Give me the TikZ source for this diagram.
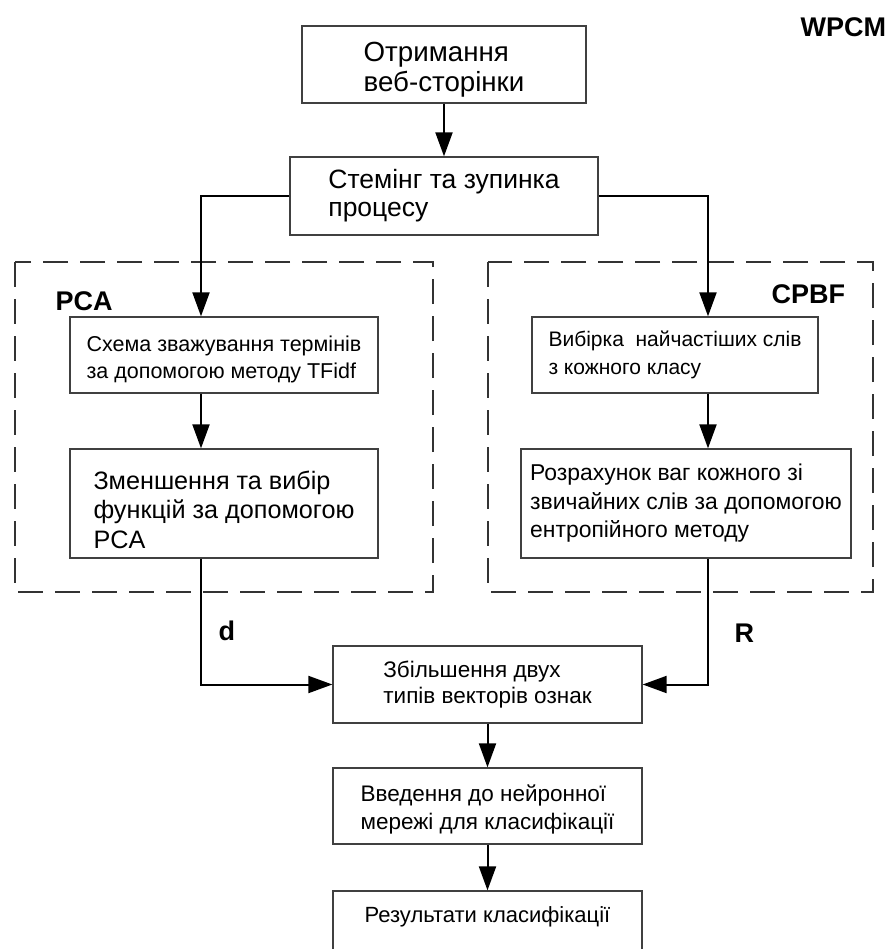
\documentclass[tikz,border=0pt]{standalone}
\usepackage{fontspec}
\setmainfont{Liberation Sans}
\usetikzlibrary{arrows.meta}
\tikzset{
  box/.style={draw=black!75, line width=1.3pt, align=left, inner sep=0pt},
  arr/.style={line width=2pt, -{Triangle[length=24pt,width=17pt]}},
  grpbox/.style={draw=black!80, line width=2pt, dash pattern=on 25pt off 12pt},
  lbl/.style={font=\fontsize{27}{30}\selectfont\bfseries}
}

\begin{document}
\begin{tikzpicture}[x=1pt, y=-1pt]
\useasboundingbox (0,0) rectangle (887,949);

\draw[grpbox] (15,262) rectangle (433,592);
\draw[grpbox] (488,262) rectangle (873,592);

\node[box, minimum width=284pt, minimum height=77pt, font=\fontsize{27.7}{30}\selectfont] (fetch) at (444,64.5) {\rule{0pt}{29.8pt}Отримання\\веб-сторінки};
\node[box, minimum width=308pt, minimum height=78pt, font=\fontsize{26.5}{28}\selectfont] (stem) at (444,196) {Стемінг та зупинка\\процесу};
\node[box, minimum width=308pt, minimum height=76pt, font=\fontsize{21.5}{27}\selectfont] (tfidf) at (224,355) {\rule{0pt}{25.4pt}Схема зважування термінів\\за допомогою методу TFidf};
\node[box, minimum width=308pt, minimum height=109pt, font=\fontsize{25.2}{29.5}\selectfont] (reduce) at (224,503.5) {\rule{0pt}{30.6pt}Зменшення та вибір\\функцій за допомогою\\PCA};
\node[box, minimum width=286pt, minimum height=76pt, font=\fontsize{21}{28}\selectfont] (freq) at (675,355) {Вибірка~ найчастіших слів\\з кожного класу};
\node[box, minimum width=330pt, minimum height=109pt, font=\fontsize{22.9}{28.5}\selectfont] (entropy) at (686,503.5) {Розрахунок ваг кожного зі\\звичайних слів за допомогою\\ентропійного методу};
\node[box, minimum width=309pt, minimum height=77pt, font=\fontsize{22.5}{26}\selectfont] (concat) at (487.5,684.5) {Збільшення двух\\ типів векторів ознак};
\node[box, minimum width=309pt, minimum height=76pt, font=\fontsize{22.5}{28}\selectfont] (nn) at (487.5,806) {\rule{0pt}{24pt}Введення до нейронної\\мережі для класифікації};
\node[box, minimum width=309pt, minimum height=76pt, font=\fontsize{22}{26}\selectfont] (result) at (487.5,929) {Результати класифікації\rule[-28.6pt]{0pt}{0pt}};

\node[lbl, anchor=base west] (wpcm) at (797,37) {WPCM};
\node[lbl, anchor=base west] (pcatag) at (52,310) {PCA};
\node[lbl, anchor=base west] (cpbftag) at (768,303) {CPBF};
\node[lbl, anchor=base west] (dtag) at (215,640) {d};
\node[lbl, anchor=base west] (rtag) at (731,642) {R};

\coordinate (lx) at (201,0);
\coordinate (rx) at (708,0);

\draw[arr] (fetch) -- (stem);
\draw[arr] (stem.west) -| (lx |- tfidf.north);
\draw[arr] (stem.east) -| (rx |- freq.north);
\draw[arr] (lx |- tfidf.south) -- (lx |- reduce.north);
\draw[arr] (rx |- freq.south) -- (rx |- entropy.north);
\draw[arr] (lx |- reduce.south) |- (concat.west);
\draw[arr] (rx |- entropy.south) |- (concat.east);
\draw[arr] (concat) -- (nn);
\draw[arr] (nn) -- (result);
\end{tikzpicture}
\end{document}
